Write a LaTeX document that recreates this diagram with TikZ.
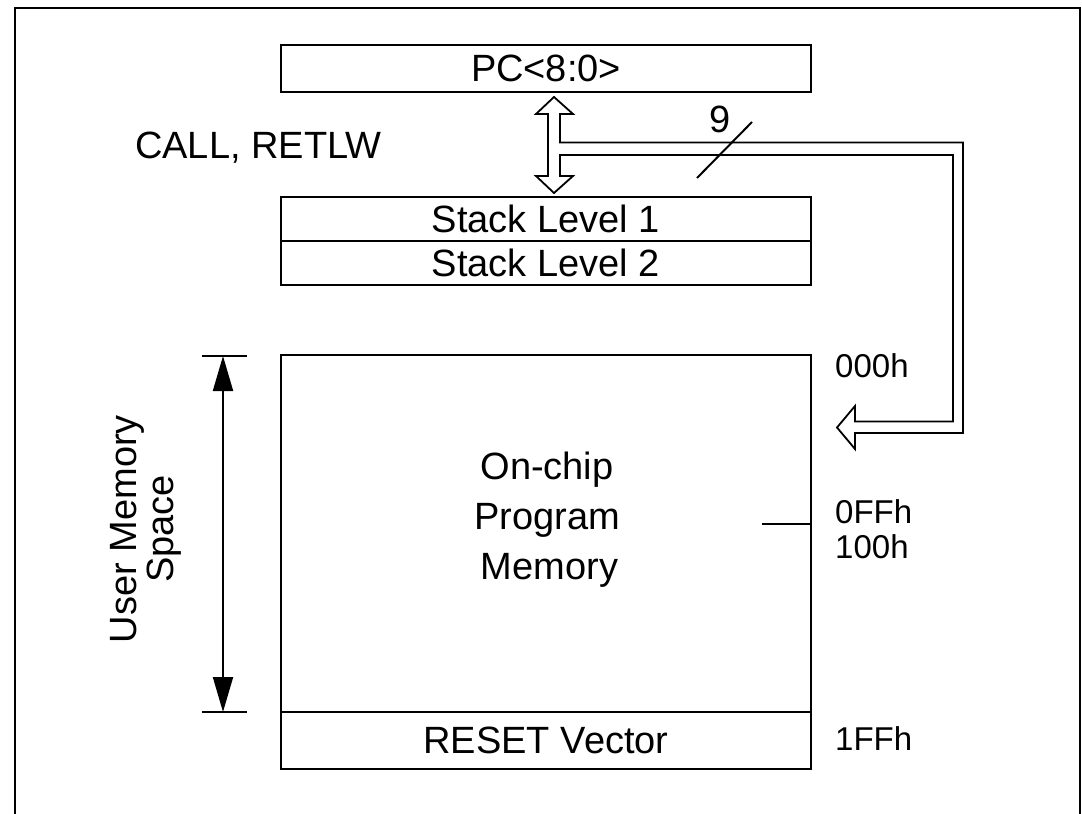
\documentclass[tikz,border=0pt]{standalone}
\usepackage{fontspec}
\setmainfont{Liberation Sans}
\usetikzlibrary{arrows.meta,calc}
\begin{document}
\begin{tikzpicture}[x=1pt,y=-1pt,
  box/.style={draw,line width=2pt,minimum width=530pt,inner sep=0pt,
    font=\fontsize{38}{46}\selectfont},
  lbl/.style={inner sep=0pt,font=\fontsize{38}{46}\selectfont},
  addr/.style={inner sep=0pt,anchor=base west,font=\fontsize{33}{40}\selectfont},
  wire/.style={line width=2pt},
  dim/.style={line width=2pt,{Triangle[length=35pt,width=20pt]}-{Triangle[length=35pt,width=20pt]}}]
\useasboundingbox (0,0) rectangle (1082,814);
% outer frame
\draw[line width=2.5pt] (15,830) -- (15,8) -- (1080,8) -- (1080,830);
% boxes
\node[box,minimum height=47pt] (pc) at (546,68.5) {PC<8:0>};
\node[box,minimum height=44pt] (s1) at (546,219) {Stack Level 1};
\node[box,minimum height=44pt] (s2) at (546,263) {Stack Level 2};
\node[box,minimum height=357pt] (mem) at (546,533.5) {};
\node[box,minimum height=57pt] (rst) at (546,740.5) {RESET Vector};
\node[lbl,align=center,font=\fontsize{38}{50}\selectfont] (memtxt) at (547,520) {On-chip\\Program\\\hspace*{5pt}Memory};
% block arrow / bus
\draw[line width=1.8pt,line join=miter]
  (554,97) -- (573,114) -- (560,114) -- (560,142.5) -- (963,142.5)
  -- (963,433) -- (855,433) -- (855,449) -- (837,427.5) -- (855,406)
  -- (855,421.5) -- (953,421.5) -- (953,155) -- (560,155) -- (560,176)
  -- (573,176) -- (554,193) -- (536,176) -- (548,176) -- (548,114)
  -- (536,114) -- cycle;
% bus width mark
\draw[wire] (697,178) -- (752,122);
\node[lbl,anchor=base] (nine) at (720,132) {9};
\node[lbl,anchor=base west] (call) at (135,158) {CALL, RETLW};
% tick at 0FFh
\coordinate (tk) at (mem.east |- 0,524);
\draw[wire] (tk) -- ++(-50,0);
% addresses
\node[addr] (a0) at (835,377) {000h};
\node[addr] (a1) at (835,523) {0FFh};
\node[addr] (a2) at (835,558) {100h};
\node[addr] (a3) at (835,750) {1FFh};
% user memory space dimension
\coordinate (dt) at (223,356);
\coordinate (db) at (223,712);
\draw[wire] (202,356) -- (247,356);
\draw[wire] (202,712) -- (247,712);
\draw[dim] (dt) -- (db);
\node[lbl,rotate=90,align=center,font=\fontsize{38}{37}\selectfont] (ums) at (146,529) {User Memory\\Space};
\end{tikzpicture}
\end{document}
